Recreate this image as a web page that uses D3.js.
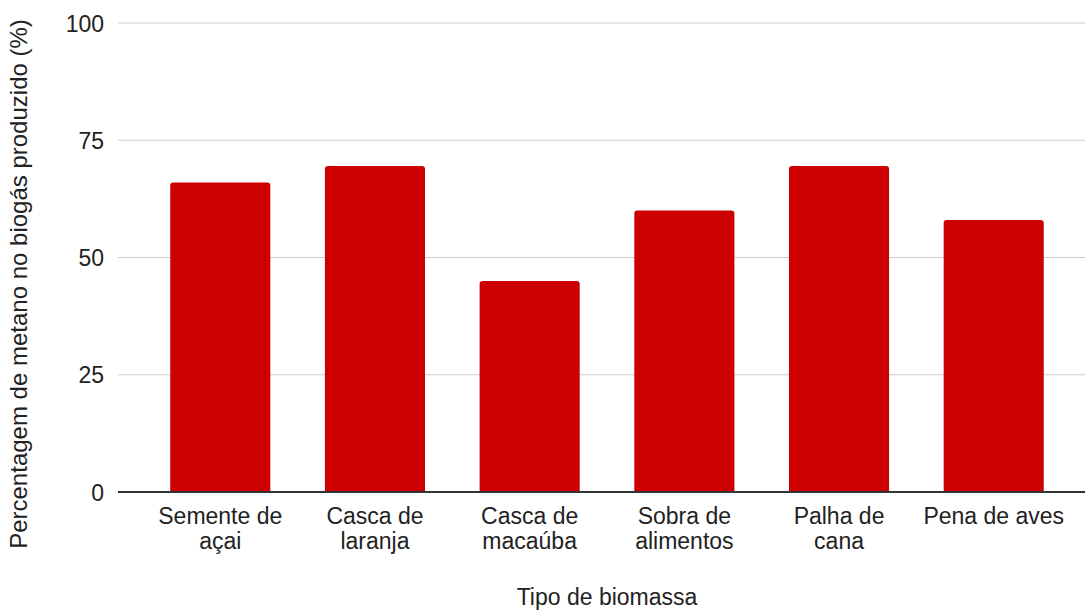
<!DOCTYPE html>
<html><head><meta charset="utf-8">
<script src="https://cdn.jsdelivr.net/npm/d3@7"></script>
<style>body{margin:0;background:#fff}svg{display:block}text{font-family:"Liberation Sans",Arial,sans-serif;fill:#222}</style>
</head><body>
<svg id="c" width="1085" height="610"></svg>
<script>
const categories = [["Semente de","açai"],["Casca de","laranja"],["Casca de","macaúba"],["Sobra de","alimentos"],["Palha de","cana"],["Pena de aves"]];
const values = [66, 69.5, 45, 60, 69.5, 58];
const yTicks = [0, 25, 50, 75, 100];
const xTitle = "Tipo de biomassa";
const yTitle = "Percentagem de metano no biogás produzido (%)";

const svg = d3.select("#c");
const gridL = 118, gridR = 1085;
const fs = 23;
const x = d3.scaleBand().domain(d3.range(values.length)).range([143, 1071]).paddingInner(0.353).paddingOuter(0.176);
const y = d3.scaleLinear().domain([0, 100]).range([492, 23]);

// gridlines
svg.append("g").selectAll("line").data(yTicks.filter(d => d !== 0)).join("line")
  .attr("x1", gridL).attr("x2", gridR).attr("y1", d => y(d)).attr("y2", d => y(d))
  .attr("stroke", "#cccccc").attr("stroke-width", 1);

// tick labels
svg.append("g").selectAll("text").data(yTicks).join("text")
  .attr("x", 104).attr("y", d => y(d) + 8.5).attr("text-anchor", "end")
  .attr("font-size", fs).text(d => d);

// bars with rounded top corners
const r = 3;
svg.append("g").selectAll("path").data(values).join("path")
  .attr("fill", "#cc0000")
  .attr("d", (d, i) => {
    const x0 = x(i), w = x.bandwidth(), yt = y(d), yb = y(0);
    return `M${x0},${yb}V${yt + r}Q${x0},${yt} ${x0 + r},${yt}H${x0 + w - r}Q${x0 + w},${yt} ${x0 + w},${yt + r}V${yb}Z`;
  });

// baseline
svg.append("line").attr("x1", gridL).attr("x2", gridR).attr("y1", y(0)).attr("y2", y(0))
  .attr("stroke", "#333333").attr("stroke-width", 2);

// category labels
const cl = svg.append("g").selectAll("text").data(categories).join("text")
  .attr("text-anchor", "middle").attr("font-size", fs)
  .attr("x", (d, i) => x(i) + x.bandwidth() / 2).attr("y", 524);
cl.selectAll("tspan").data(d => d).join("tspan")
  .attr("x", function() { return d3.select(this.parentNode).attr("x"); })
  .attr("dy", (d, j) => j === 0 ? 0 : 24.5).text(d => d);

// axis titles
svg.append("text").attr("x", 607).attr("y", 605).attr("text-anchor", "middle").attr("font-size", fs).text(xTitle);
svg.append("text").attr("transform", "translate(27,284) rotate(-90)").attr("text-anchor", "middle").attr("font-size", 24).text(yTitle);
</script>
</body></html>
